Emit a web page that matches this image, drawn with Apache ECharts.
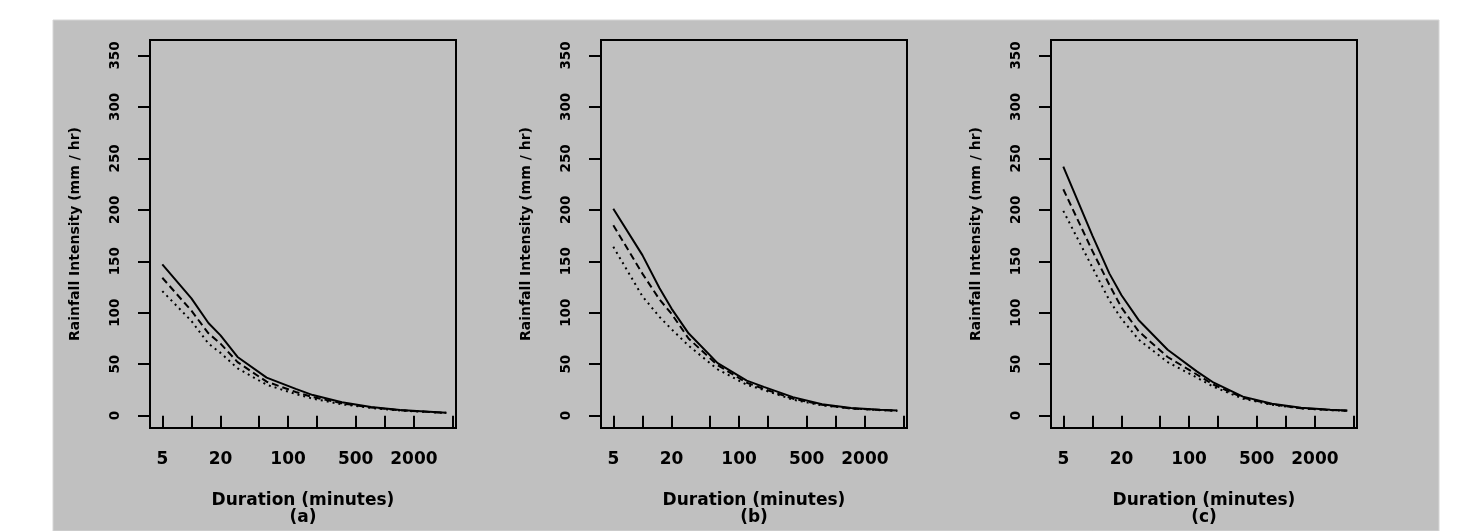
<!DOCTYPE html>
<html>
<head>
<meta charset="utf-8">
<script src="https://cdn.jsdelivr.net/npm/echarts@6/dist/echarts.min.js"></script>
<style>
html, body { margin: 0; padding: 0; background: #fff; }
#chart { width: 1469px; height: 531px; }
</style>
</head>
<body>
<div id="chart"></div>
<script>
// durations (minutes) shared by all panels
var durations = [5, 10, 15, 20, 30, 60, 120, 180, 360, 720, 1440, 2880, 4320]

// panel (a)
var aSolid = [147, 114, 90, 78, 57, 37, 26, 20, 13, 8.5, 5.5, 3.8, 2.8]
var aDashed = [134, 102, 80, 70, 52, 33, 23, 18, 12, 8, 5.2, 3.6, 2.7]
var aDotted = [121, 92, 70, 61, 46, 30, 21, 16.5, 11, 7.5, 5, 3.5, 2.6]

// panel (b)
var bSolid = [201, 156, 124, 104, 80, 51, 34, 28, 18, 11.1, 7.4, 5.8, 5]
var bDashed = [185, 138, 113, 99, 75, 49, 32, 26, 16.5, 10.5, 7, 5.5, 4.8]
var bDotted = [164, 116, 96, 84, 68, 45, 30, 25, 15.5, 10, 7, 5.3, 4.6]

// panel (c)
var cSolid = [242, 175, 138, 117, 93, 64, 43, 32, 18.5, 11.5, 7.6, 5.8, 5]
var cDashed = [220, 160, 127, 105, 82, 57, 40, 30, 17.5, 11, 7.2, 5.5, 4.8]
var cDotted = [199, 144, 112, 94, 74, 52, 37, 28, 16.5, 10.5, 7, 5.3, 4.7]

var xTicks = [5, 10, 20, 50, 100, 200, 500, 1000, 2000, 5000]
var xLabels = [5, 20, 100, 500, 2000]
var yTicks = [0, 50, 100, 150, 200, 250, 300, 350]
var panelTags = ['(a)', '(b)', '(c)']

var font = 'DejaVu Sans'
var gridLefts = [150, 601, 1051]

function pairs (ys) {
  return durations.map(function (d, i) { return [d, ys[i]] })
}

var grids = []
var xAxes = []
var yAxes = []
gridLefts.forEach(function (left, i) {
  grids.push({
    left: left, top: 40, width: 306, height: 391,
    show: true, borderColor: '#000', borderWidth: 2, backgroundColor: 'transparent'
  })
  xAxes.push({
    type: 'log', gridIndex: i, min: 3.73, max: 5450,
    name: 'Duration (minutes)\n' + panelTags[i],
    nameLocation: 'middle', nameGap: 64,
    nameTextStyle: { fontFamily: font, fontSize: 17, fontWeight: 'bold', lineHeight: 17, color: '#000' },
    axisLine: { show: false },
    splitLine: { show: false },
    axisTick: { show: true, length: 12, customValues: xTicks, lineStyle: { color: '#000', width: 2 } },
    axisLabel: {
      customValues: xLabels, margin: 23, fontFamily: font, fontSize: 17, fontWeight: 'bold', color: '#000',
      formatter: function (v) { return String(v) }
    }
  })
  yAxes.push({
    type: 'value', gridIndex: i, min: -12, max: 365,
    name: 'Rainfall Intensity (mm / hr)',
    nameLocation: 'middle', nameGap: 68,
    nameTextStyle: { fontFamily: font, fontSize: 14, fontWeight: 'bold', color: '#000' },
    axisLine: { show: false },
    splitLine: { show: false },
    axisTick: { show: true, length: 12, customValues: yTicks, lineStyle: { color: '#000', width: 2 } },
    axisLabel: { customValues: yTicks, rotate: 90, margin: 28, fontFamily: font, fontSize: 13.5, fontWeight: 'bold', color: '#000' }
  })
})

var panels = [[aSolid, aDashed, aDotted], [bSolid, bDashed, bDotted], [cSolid, cDashed, cDotted]]
var styles = ['solid', [7, 4], [2, 4]]
var series = []
panels.forEach(function (set, i) {
  set.forEach(function (ys, k) {
    series.push({
      type: 'line', xAxisIndex: i, yAxisIndex: i,
      data: pairs(ys), showSymbol: false, silent: true,
      lineStyle: { color: '#000', width: 2, type: styles[k] }
    })
  })
})

var chart = echarts.init(document.getElementById('chart'))
chart.setOption({
  animation: false,
  backgroundColor: '#fff',
  graphic: [{
    type: 'rect', z: -10, silent: true,
    shape: { x: 53, y: 20, width: 1386, height: 511 },
    style: { fill: '#c0c0c0', stroke: '#d6d6d6', lineWidth: 1 }
  }],
  grid: grids,
  xAxis: xAxes,
  yAxis: yAxes,
  series: series
})
</script>
</body>
</html>
